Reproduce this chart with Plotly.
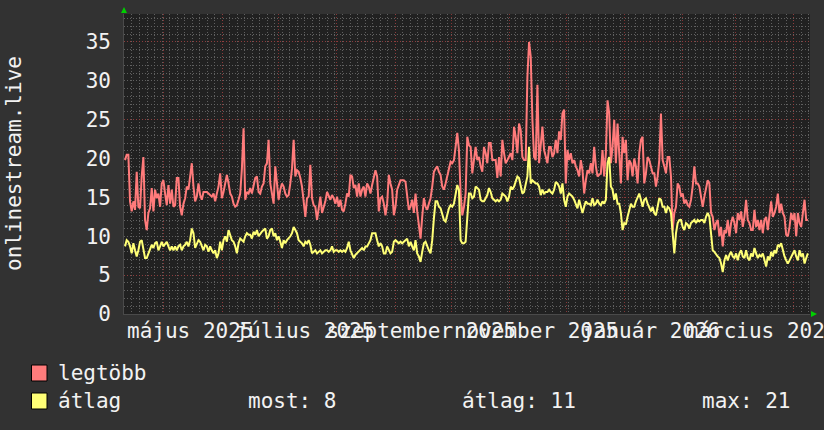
import pandas as pd
import plotly.graph_objects as go

# ---- data ----
legtobb = [
    19.8, 20.5, 20.5, 14.5, 13.2, 14.5, 13.4, 18.3, 13.8, 13.6,
    17.7, 20.2, 12.1, 10.8, 13.0, 13.6, 16.2, 13.2, 16.0, 14.9,
    15.5, 13.8, 16.8, 17.2, 15.5, 14.0, 16.6, 14.2, 16.0, 13.8,
    14.0, 17.5, 17.5, 13.8, 12.7, 14.2, 14.9, 16.4, 16.0, 17.7,
    19.4, 16.4, 14.5, 15.1, 16.8, 15.3, 14.7, 15.7, 15.7, 15.7,
    15.5, 15.3, 15.1, 15.5, 14.5, 15.5, 16.4, 18.1, 14.9, 15.7,
    17.0, 17.9, 16.8, 15.5, 15.1, 14.2, 13.8, 14.0, 14.7, 15.5,
    18.7, 23.9, 14.7, 15.7, 15.5, 16.2, 15.5, 16.4, 17.5, 17.7,
    15.7, 15.5, 16.4, 16.8, 19.0, 19.4, 22.4, 16.8, 15.5, 14.2,
    19.0, 16.4, 14.7, 16.0, 16.8, 16.4, 15.5, 15.1, 15.3, 16.8,
    18.7, 22.4, 17.7, 18.5, 18.3, 17.5, 16.4, 14.5, 12.5, 14.9,
    15.1, 19.2, 14.9, 14.0, 13.8, 12.1, 14.0, 15.1, 13.0, 13.8,
    14.5, 15.7, 15.1, 14.7, 15.3, 14.9, 14.2, 15.1, 13.8, 14.7,
    13.4, 13.2, 14.2, 15.5, 15.1, 17.9, 17.7, 16.2, 16.6, 15.1,
    16.8, 15.1, 16.0, 16.4, 15.1, 16.8, 16.4, 15.5, 16.6, 17.5,
    18.5, 17.7, 13.2, 14.9, 15.1, 14.2, 12.7, 14.2, 17.9, 16.8,
    16.0, 12.7, 13.8, 16.0, 16.6, 17.2, 17.2, 17.2, 17.0, 15.1,
    13.4, 13.8, 14.7, 13.0, 15.5, 13.2, 11.7, 9.7, 12.5, 14.9,
    13.8, 13.4, 14.2, 14.9, 16.4, 18.3, 18.7, 19.0, 18.3, 17.9,
    16.4, 16.0, 16.8, 17.7, 18.5, 19.6, 19.4, 19.8, 21.5, 23.3,
    21.1,
    15.5, 12.7, 13.8, 15.5, 22.8,
    21.7, 21.5, 18.1, 20.2, 21.5, 19.8, 20.2, 19.0, 18.3, 21.5,
    20.7, 19.4, 22.0, 22.0, 19.8, 19.8, 19.8, 17.5, 20.2, 17.7,
    22.4, 20.7, 19.4, 19.8, 20.2, 20.7, 19.8, 24.1, 22.8, 20.7,
    24.5, 23.7, 20.2, 19.8, 19.8, 30.5, 35.0, 33.1, 25.0, 20.2,
    19.8, 29.5, 19.4, 21.5, 24.1, 21.1, 20.2, 19.4, 21.5, 21.5,
    20.2, 20.7, 22.4, 20.7, 23.5, 22.4, 25.8, 26.3, 16.8, 21.1,
    19.8, 20.7, 19.4, 19.8, 19.0, 18.5, 17.7, 19.8, 18.5, 15.5,
    17.2, 18.5, 18.1, 19.4, 18.1, 21.5, 19.0, 17.7, 17.9, 18.1,
    21.1, 17.7, 20.7, 27.5, 25.8, 19.4, 21.5, 25.0, 19.4, 24.5,
    20.7, 16.8, 22.8, 20.7, 22.4, 17.2, 19.8, 19.4, 17.7, 20.0,
    19.0, 16.8, 20.7, 22.4, 22.8, 16.8, 18.1, 20.2, 19.8, 19.0,
    18.1, 18.1, 16.4, 17.7, 19.8, 25.8, 19.8, 19.0, 18.1, 20.2,
    20.2, 17.7, 10.8, 13.0, 13.8, 16.8, 16.4, 15.1, 15.5, 14.2,
    14.7, 14.0, 13.8, 14.7, 16.4, 19.0, 16.8, 16.8, 16.4, 15.1,
    13.8, 15.1, 16.4, 17.2, 16.8, 13.0, 12.5, 10.8, 11.7, 12.1,
    10.0, 11.2, 8.7, 10.8, 10.4, 12.1, 10.0, 11.7, 12.5, 11.7,
    10.4, 13.0, 12.1, 13.2, 11.2, 12.5, 14.7, 12.1, 11.7, 10.8,
    10.8, 13.4, 11.2, 12.1, 10.8, 12.1, 10.4, 12.1, 12.5, 10.8,
    12.7, 14.5, 12.5, 13.0, 13.8, 15.5, 13.0, 14.2, 13.0, 12.5,
    10.2, 10.0, 11.2, 13.0, 12.1, 13.0, 10.0, 13.0, 11.7, 11.2,
    13.0, 14.7, 12.1, 12.1,
]

atlag = [
    8.7, 9.5, 9.3, 8.7, 7.8, 9.1, 8.2, 7.4, 8.2, 9.3,
    9.5, 8.2, 7.2, 7.2, 7.8, 8.5, 8.9, 8.5, 9.1, 9.3,
    8.2, 8.7, 9.3, 8.7, 9.1, 9.3, 8.7, 8.2, 8.7, 8.2,
    8.7, 8.2, 8.7, 8.9, 8.2, 8.7, 8.9, 9.3, 8.7, 9.5,
    11.0, 10.4, 8.5, 9.1, 9.5, 9.3, 8.7, 8.2, 8.9, 8.7,
    8.0, 8.7, 8.2, 7.8, 8.2, 7.2, 7.8, 9.3, 8.2, 9.5,
    10.0, 9.3, 10.8, 10.2, 9.5, 9.3, 8.7, 7.8, 9.1, 9.7,
    9.5, 9.3, 10.0, 10.4, 10.2, 10.2, 9.7, 10.6, 10.2, 10.8,
    10.0, 10.4, 10.6, 10.8, 11.0, 9.7, 10.0, 10.8, 11.0, 10.0,
    10.4, 9.5, 10.0, 9.3, 8.5, 9.5, 9.1, 9.5, 9.7, 10.0,
    10.4, 11.2, 10.8, 10.4, 9.5, 9.3, 9.1, 8.7, 9.3, 9.1,
    9.5, 8.9, 7.8, 8.0, 8.2, 7.8, 8.0, 8.2, 7.8, 8.0,
    8.2, 8.2, 8.0, 8.2, 8.7, 8.0, 8.2, 8.2, 8.0, 8.2,
    8.0, 8.2, 8.0, 8.5, 9.3, 8.2, 7.8, 7.2, 7.6, 7.8,
    8.0, 8.2, 8.5, 8.2, 8.7, 8.7, 9.1, 9.5, 10.4, 10.4,
    10.4, 9.5, 8.7, 9.1, 8.7, 7.8, 7.8, 8.7, 8.2, 7.8,
    8.0, 9.3, 9.5, 9.3, 9.1, 9.3, 9.1, 9.3, 9.5, 9.7,
    8.7, 9.3, 8.7, 8.2, 9.5, 7.8, 7.4, 6.7, 8.0, 9.1,
    9.3, 8.7, 8.2, 7.8, 9.5, 12.3, 14.5, 14.5, 13.8, 13.6,
    12.7, 12.1, 11.9, 13.0, 13.6, 14.0, 13.8, 14.2, 15.5, 16.6,
    16.0, 9.5, 9.1, 9.1, 9.3, 12.1,
    15.5, 15.5, 14.9, 15.1, 16.4, 16.2, 16.0, 14.7, 14.5, 14.5,
    14.9, 15.3, 16.2, 15.7, 14.9, 14.7, 14.5, 14.7, 14.5, 14.7,
    15.5, 15.3, 15.1, 14.5, 15.1, 16.4, 16.0, 16.4, 17.2, 17.7,
    17.5, 16.4, 15.5, 15.7, 16.8, 17.7, 21.5, 16.8, 17.2, 17.0,
    16.8, 16.8, 16.4, 15.3, 16.0, 15.5, 15.7, 15.7, 16.0, 15.7,
    15.5, 16.0, 17.0, 16.8, 16.4, 15.5, 16.8, 14.7, 13.8, 15.1,
    15.5, 15.3, 15.1, 14.7, 14.2, 13.6, 14.7, 13.8, 13.0, 13.8,
    14.5, 14.2, 14.2, 14.0, 14.9, 14.0, 14.2, 14.7, 14.2, 14.0,
    14.5, 14.2, 14.7, 19.4, 20.2, 16.4, 16.0, 14.7, 15.5, 14.2,
    14.2, 13.0, 10.8, 11.7, 11.5, 12.5, 13.2, 14.2, 13.8, 13.8,
    14.5, 15.1, 15.5, 14.7, 13.8, 14.7, 14.9, 14.2, 13.8, 13.2,
    13.8, 13.0, 12.7, 14.0, 14.9, 14.7, 13.8, 13.8, 13.0, 13.8,
    13.6, 13.0, 10.4, 7.8, 10.4, 11.7, 12.1, 12.1, 11.2, 10.8,
    11.7, 11.5, 11.0, 11.7, 11.9, 12.1, 11.7, 12.1, 11.9, 12.1,
    12.1, 11.7, 12.5, 13.0, 12.5, 10.4, 8.2, 8.0, 7.6, 7.4,
    7.2, 6.5, 5.4, 6.9, 7.6, 6.9, 7.6, 8.0, 7.4, 7.2,
    7.8, 6.9, 7.8, 8.2, 7.4, 7.2, 8.2, 7.2, 6.9, 7.8,
    7.4, 8.5, 7.8, 7.2, 7.6, 7.4, 7.8, 6.9, 6.1, 7.4,
    6.9, 8.0, 7.4, 8.2, 7.8, 8.9, 8.7, 9.1, 8.2, 7.4,
    6.9, 6.5, 6.9, 7.4, 7.8, 8.2, 7.4, 6.9, 8.2, 7.4,
    7.8, 6.5, 7.2, 7.8,
]

series_start = "2025-04-10 07:00"
series_end = "2026-04-08 15:00"
x_range = ["2025-04-09 18:00", "2026-04-09 18:00"]

month_starts = ["2025-05-01", "2025-06-01", "2025-07-01", "2025-08-01",
                "2025-09-01", "2025-10-01", "2025-11-01", "2025-12-01",
                "2026-01-01", "2026-02-01", "2026-03-01", "2026-04-01"]
label_dates = ["2025-05-15", "2025-07-15", "2025-09-15",
               "2025-11-15", "2026-01-15", "2026-03-15"]
label_texts = ["május 2025", "július 2025", "szeptember 2025",
               "november 2025", "január 2026", "március 2026"]

y_labels = [0, 5, 10, 15, 20, 25, 30, 35]
y_major_grid = [5, 15, 25, 35]
y_max = 38.6

series_names = ["legtöbb", "átlag"]
series_colors = ["#ff7b7b", "#ffff76"]
stat_labels = ["most", "átlag", "max"]
stat_values = [8, 11, 21]
y_title = "onlinestream.live"

# ---- figure ----
FONT = "DejaVu Sans Mono"
TXT = "#f2f2f2"
n = len(atlag)
dates = pd.date_range(series_start, series_end, periods=n)

fig = go.Figure()
fig.add_trace(go.Scatter(x=dates, y=legtobb[:n], mode="lines", name=series_names[0],
                         line=dict(color=series_colors[0], width=2),
                         xaxis="x", yaxis="y"))
fig.add_trace(go.Scatter(x=dates, y=atlag, mode="lines", name=series_names[1],
                         line=dict(color=series_colors[1], width=2),
                         xaxis="x2", yaxis="y2"))

grid_red = "rgba(150,55,55,0.85)"
grid_grey = "rgba(100,100,100,0.95)"
dash = "1px,2px"

fig.update_layout(
    width=824, height=430,
    margin=dict(l=124, r=14, t=14, b=116),
    paper_bgcolor="#323232", plot_bgcolor="#212121",
    showlegend=False,
    font=dict(family=FONT, color=TXT, size=20),
    xaxis=dict(
        type="date", range=x_range, tickmode="array", tickvals=month_starts,
        showticklabels=False, ticks="", showgrid=True, gridcolor=grid_red,
        griddash=dash, gridwidth=1, zeroline=False,
        showline=True, linecolor="#4a4a4a", linewidth=1,
        minor=dict(dtick=4 * 86400000, tick0="2025-04-10", showgrid=True,
                   gridcolor=grid_grey, griddash=dash, gridwidth=1, ticks=""),
    ),
    xaxis2=dict(
        type="date", range=x_range, overlaying="x", anchor="y2", side="bottom",
        tickmode="array", tickvals=label_dates, ticktext=label_texts,
        tickangle=0, ticks="", showgrid=False, zeroline=False,
        tickfont=dict(family=FONT, size=21, color=TXT),
        ticklabelstandoff=2, ticklabeloverflow="allow", automargin=False,
    ),
    yaxis=dict(
        range=[0, y_max], tickmode="array", tickvals=y_major_grid,
        showticklabels=False, ticks="", showgrid=True, gridcolor=grid_red,
        griddash=dash, gridwidth=1, zeroline=False,
        showline=True, linecolor="#4a4a4a", linewidth=1,
        minor=dict(dtick=1, tick0=0, showgrid=True, gridcolor=grid_grey,
                   griddash=dash, gridwidth=1, ticks=""),
    ),
    yaxis2=dict(
        range=[0, y_max], overlaying="y", anchor="x2", side="left",
        tickmode="array", tickvals=y_labels, ticktext=[str(v) for v in y_labels],
        ticks="", showgrid=False, zeroline=False,
        tickfont=dict(family=FONT, size=21, color=TXT),
        ticklabelstandoff=12, automargin=False,
    ),
)

W = 686.0
H = 300.0
def px(x):
    return (x - 124) / W
def py(y):
    return (314 - y) / H

# y-axis title
fig.add_annotation(text=y_title, xref="paper", yref="paper", x=px(14), y=0.5,
                   textangle=-90, showarrow=False, xanchor="center", yanchor="middle",
                   font=dict(family=FONT, size=21, color=TXT))

# legend boxes and texts
rows_y = [373, 401]
for i, (nm, col) in enumerate(zip(series_names, series_colors)):
    cy = rows_y[i]
    fig.add_shape(type="rect", xref="paper", yref="paper",
                  x0=px(31.5), x1=px(47), y0=py(cy - 8), y1=py(cy + 8),
                  fillcolor=col, line=dict(color="#000000", width=1))
    fig.add_annotation(text=nm, xref="paper", yref="paper", x=px(56), y=py(cy),
                       showarrow=False, xanchor="left", yanchor="middle",
                       font=dict(family=FONT, size=21, color=TXT))

stat_x = [246, 460, 700]
for sx, lab, val in zip(stat_x, stat_labels, stat_values):
    fig.add_annotation(text=f"{lab}: {val}", xref="paper", yref="paper",
                       x=px(sx), y=py(rows_y[1]), showarrow=False,
                       xanchor="left", yanchor="middle",
                       font=dict(family=FONT, size=21, color=TXT))

# green axis arrows
fig.add_shape(type="path", xref="paper", yref="paper", layer="above",
              path=f"M {px(121)},{py(13)} L {px(127)},{py(13)} L {px(124)},{py(7)} Z",
              fillcolor="#00d000", line=dict(color="#00d000", width=0))
fig.add_shape(type="path", xref="paper", yref="paper", layer="above",
              path=f"M {px(811)},{py(311)} L {px(811)},{py(317)} L {px(817)},{py(314)} Z",
              fillcolor="#00d000", line=dict(color="#00d000", width=0))

fig.write_html("out.html", config={"displayModeBar": False},
               post_script="document.body.style.margin='0';")
